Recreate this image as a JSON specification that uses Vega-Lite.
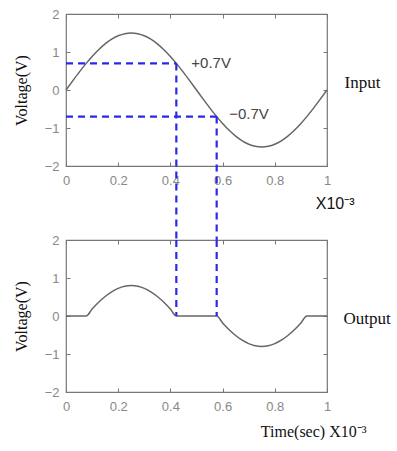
{
  "$schema": "https://vega.github.io/schema/vega-lite/v6.json",
  "background": "white",
  "padding": {"left": 12, "top": 7, "right": 0, "bottom": 0},
  "bounds": "flush",
  "spacing": 74,
  "config": {
    "view": {"stroke": "#777", "strokeWidth": 1.2},
    "axis": {
      "grid": false, "domain": false, "tickSize": -4, "tickColor": "#777", "tickWidth": 1,
      "labelFlush": false, "labelOverlap": false,
      "labelColor": "#888", "labelFont": "Liberation Sans", "labelFontSize": 13, "labelPadding": 11,
      "titleFont": "Liberation Serif", "titleFontWeight": "normal", "titleFontSize": 16, "titleColor": "#111"
    },
    "axisBottom": {"labelPadding": 12}
  },
  "datasets": {
    "input": [
      {"t": 0, "v": 0}, {"t": 0.025, "v": 0.2347}, {"t": 0.05, "v": 0.4635}, {"t": 0.075, "v": 0.681},
      {"t": 0.1, "v": 0.8817}, {"t": 0.125, "v": 1.0607}, {"t": 0.15, "v": 1.2135}, {"t": 0.175, "v": 1.3365},
      {"t": 0.2, "v": 1.4266}, {"t": 0.225, "v": 1.4815}, {"t": 0.25, "v": 1.5}, {"t": 0.275, "v": 1.4815},
      {"t": 0.3, "v": 1.4266}, {"t": 0.325, "v": 1.3365}, {"t": 0.35, "v": 1.2135}, {"t": 0.375, "v": 1.0607},
      {"t": 0.4, "v": 0.8817}, {"t": 0.425, "v": 0.681}, {"t": 0.45, "v": 0.4635}, {"t": 0.475, "v": 0.2347},
      {"t": 0.5, "v": 0}, {"t": 0.525, "v": -0.2347}, {"t": 0.55, "v": -0.4635}, {"t": 0.575, "v": -0.681},
      {"t": 0.6, "v": -0.8817}, {"t": 0.625, "v": -1.0607}, {"t": 0.65, "v": -1.2135}, {"t": 0.675, "v": -1.3365},
      {"t": 0.7, "v": -1.4266}, {"t": 0.725, "v": -1.4815}, {"t": 0.75, "v": -1.5}, {"t": 0.775, "v": -1.4815},
      {"t": 0.8, "v": -1.4266}, {"t": 0.825, "v": -1.3365}, {"t": 0.85, "v": -1.2135}, {"t": 0.875, "v": -1.0607},
      {"t": 0.9, "v": -0.8817}, {"t": 0.925, "v": -0.681}, {"t": 0.95, "v": -0.4635}, {"t": 0.975, "v": -0.2347},
      {"t": 1, "v": 0}
    ],
    "output": [
      {"t": 0, "v": 0}, {"t": 0.0773, "v": 0}, {"t": 0.1, "v": 0.1817}, {"t": 0.125, "v": 0.3607},
      {"t": 0.15, "v": 0.5135}, {"t": 0.175, "v": 0.6365}, {"t": 0.2, "v": 0.7266}, {"t": 0.225, "v": 0.7815},
      {"t": 0.25, "v": 0.8}, {"t": 0.275, "v": 0.7815}, {"t": 0.3, "v": 0.7266}, {"t": 0.325, "v": 0.6365},
      {"t": 0.35, "v": 0.5135}, {"t": 0.375, "v": 0.3607}, {"t": 0.4, "v": 0.1817}, {"t": 0.4227, "v": 0},
      {"t": 0.5773, "v": 0}, {"t": 0.6, "v": -0.1817}, {"t": 0.625, "v": -0.3607}, {"t": 0.65, "v": -0.5135},
      {"t": 0.675, "v": -0.6365}, {"t": 0.7, "v": -0.7266}, {"t": 0.725, "v": -0.7815}, {"t": 0.75, "v": -0.8},
      {"t": 0.775, "v": -0.7815}, {"t": 0.8, "v": -0.7266}, {"t": 0.825, "v": -0.6365}, {"t": 0.85, "v": -0.5135},
      {"t": 0.875, "v": -0.3607}, {"t": 0.9, "v": -0.1817}, {"t": 0.9227, "v": 0}, {"t": 1, "v": 0}
    ],
    "dashTop": [
      {"x": 0, "x2": 0.4227, "y": 0.7, "y2": 0.7},
      {"x": 0, "x2": 0.5773, "y": -0.7, "y2": -0.7},
      {"x": 0.4227, "x2": 0.4227, "y": 0.7, "y2": -3.95},
      {"x": 0.5773, "x2": 0.5773, "y": -0.7, "y2": -3.95}
    ],
    "dashBottom": [
      {"x": 0.4227, "x2": 0.4227, "y": 2, "y2": 0},
      {"x": 0.5773, "x2": 0.5773, "y": 2, "y2": 0}
    ],
    "labels": [
      {"x": 0.48, "y": 0.7, "label": "+0.7V"},
      {"x": 0.625, "y": -0.62, "label": "−0.7V"}
    ]
  },
  "vconcat": [
    {
      "width": 261, "height": 152,
      "layer": [
        {
          "data": {"name": "input"},
          "mark": {"type": "line", "color": "#666", "strokeWidth": 1.5, "interpolate": "monotone"},
          "encoding": {
            "x": {"field": "t", "type": "quantitative", "scale": {"domain": [0, 1], "nice": false, "zero": false},
              "axis": {"orient": "bottom", "values": [0, 0.2, 0.4, 0.6, 0.8, 1], "format": "~g",
                "title": "X10⁻³", "titleFont": "Liberation Sans", "titleFontSize": 16, "titleAlign": "right",
                "titleX": 288, "titleY": 37, "titleBaseline": "middle"}},
            "y": {"field": "v", "type": "quantitative", "scale": {"domain": [-2, 2], "nice": false, "zero": false},
              "axis": {"orient": "left", "values": [-2, -1, 0, 1, 2], "title": "Voltage(V)", "titlePadding": 15}}
          }
        },
        {
          "data": {"name": "dashTop"},
          "mark": {"type": "rule", "color": "#2a2ae6", "strokeWidth": 2.2, "strokeDash": [7, 5]},
          "encoding": {
            "x": {"field": "x", "type": "quantitative", "axis": {"orient": "top", "labels": false, "title": null, "values": [0, 0.2, 0.4, 0.6, 0.8, 1]}},
            "x2": {"field": "x2"},
            "y": {"field": "y", "type": "quantitative", "axis": {"orient": "right", "labels": false, "values": [-2, -1, 0, 1, 2],
              "title": "Input", "titleAngle": 0, "titleAlign": "left", "titleBaseline": "middle", "titleX": 17, "titleY": 68, "titleFontSize": 17}},
            "y2": {"field": "y2"}
          }
        },
        {
          "data": {"name": "labels"},
          "mark": {"type": "text", "align": "left", "baseline": "middle", "font": "Liberation Sans", "fontSize": 15, "color": "#444"},
          "encoding": {
            "x": {"field": "x", "type": "quantitative", "axis": null},
            "y": {"field": "y", "type": "quantitative", "axis": null},
            "text": {"field": "label"}
          }
        }
      ],
      "resolve": {"axis": {"x": "independent", "y": "independent"}}
    },
    {
      "width": 261, "height": 152,
      "layer": [
        {
          "data": {"name": "output"},
          "mark": {"type": "line", "color": "#666", "strokeWidth": 1.5, "interpolate": "monotone"},
          "encoding": {
            "x": {"field": "t", "type": "quantitative", "scale": {"domain": [0, 1], "nice": false, "zero": false},
              "axis": {"orient": "bottom", "values": [0, 0.2, 0.4, 0.6, 0.8, 1], "format": "~g",
                "title": "Time(sec) X10⁻³", "titleFontSize": 16, "titleAlign": "right",
                "titleX": 300, "titleY": 39, "titleBaseline": "middle"}},
            "y": {"field": "v", "type": "quantitative", "scale": {"domain": [-2, 2], "nice": false, "zero": false},
              "axis": {"orient": "left", "values": [-2, -1, 0, 1, 2], "title": "Voltage(V)", "titlePadding": 15}}
          }
        },
        {
          "data": {"name": "dashBottom"},
          "mark": {"type": "rule", "color": "#2a2ae6", "strokeWidth": 2.2, "strokeDash": [7, 5]},
          "encoding": {
            "x": {"field": "x", "type": "quantitative", "axis": {"orient": "top", "labels": false, "title": null, "values": [0, 0.2, 0.4, 0.6, 0.8, 1]}},
            "x2": {"field": "x2"},
            "y": {"field": "y", "type": "quantitative", "axis": {"orient": "right", "labels": false, "values": [-2, -1, 0, 1, 2],
              "title": "Output", "titleAngle": 0, "titleAlign": "left", "titleBaseline": "middle", "titleX": 16, "titleY": 78, "titleFontSize": 17}},
            "y2": {"field": "y2"}
          }
        }
      ],
      "resolve": {"axis": {"x": "independent", "y": "independent"}}
    }
  ]
}
